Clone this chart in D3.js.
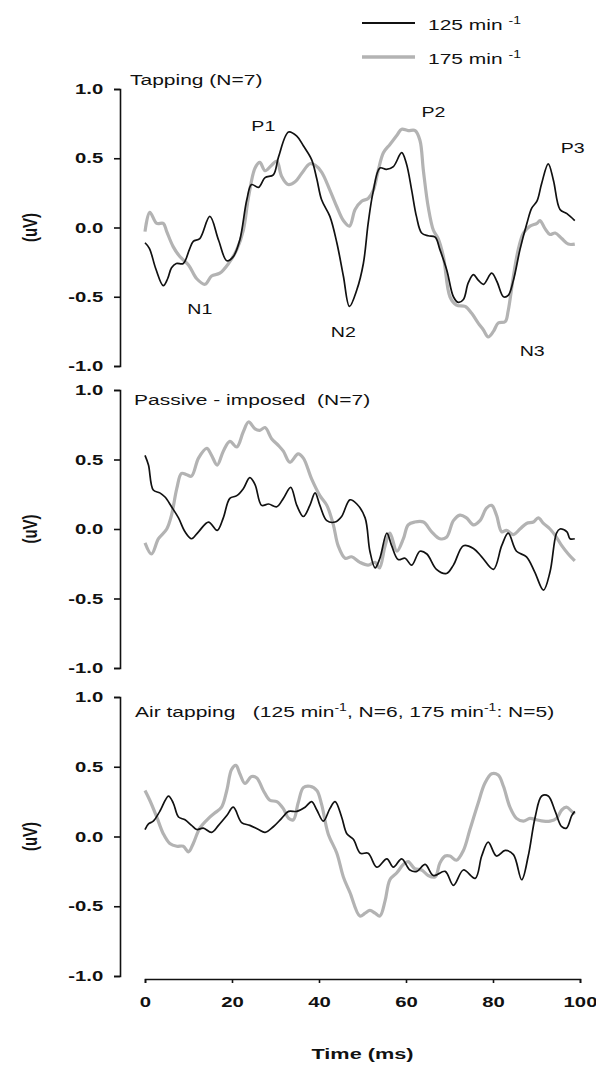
<!DOCTYPE html>
<html>
<head>
<meta charset="utf-8">
<script src="https://cdn.jsdelivr.net/npm/d3@7"></script>
<style>
body { margin: 0; background: #fff; }
svg { display: block; font-family: "Liberation Sans", Arial, sans-serif; }
text { white-space: pre; }
</style>
</head>
<body>
<div id="chart"></div>
<script>
const svgWidth = 596;
const svgHeight = 1067;
const stretch = 1.4; // the source figure is stretched sideways, text included

const timeTicks = [0, 20, 40, 60, 80, 100];
const uvTicks = [-1, -0.5, 0, 0.5, 1];

const seriesNames = ['125 min', '175 min'];

// [time (ms), amplitude (uV)]
const tapping125 = [[0,-0.11],[1,-0.15],[2.5,-0.3],[4.2,-0.42],[5.2,-0.37],[6.1,-0.29],[7.2,-0.26],[8.8,-0.26],[10.2,-0.16],[11.1,-0.1],[12.6,-0.08],[14.9,0.08],[16.9,-0.09],[18.8,-0.24],[20.3,-0.21],[21.8,-0.09],[23.4,0.2],[24.5,0.31],[26.1,0.29],[27.6,0.36],[29.5,0.38],[30.7,0.51],[33,0.69],[34.9,0.66],[36.4,0.59],[38.3,0.49],[39.5,0.35],[40.6,0.2],[42.5,0.08],[44.1,-0.11],[45.6,-0.35],[47,-0.57],[48.7,-0.45],[50.2,-0.26],[51.3,0.03],[52.4,0.25],[54,0.43],[55.5,0.42],[57.1,0.44],[59,0.54],[60.1,0.46],[61.3,0.27],[62.4,0.08],[63.6,-0.04],[65.1,-0.06],[66.7,-0.07],[67.8,-0.16],[69.4,-0.31],[70.9,-0.5],[72,-0.54],[73.2,-0.52],[74.3,-0.4],[75.5,-0.34],[76.6,-0.38],[77.8,-0.41],[79.7,-0.33],[80.9,-0.39],[82.4,-0.5],[83.5,-0.49],[84.7,-0.38],[86.2,-0.16],[87.8,0.03],[88.9,0.14],[90.1,0.19],[91.2,0.32],[92.7,0.46],[93.9,0.34],[95.4,0.13],[97,0.1],[98.8,0.05]];
const tapping175 = [[0,-0.03],[1.1,0.11],[2.7,0.03],[4.2,0.03],[5,-0.03],[6.5,-0.14],[8,-0.21],[10,-0.27],[11.9,-0.37],[13.8,-0.41],[15.3,-0.35],[17.2,-0.33],[19.2,-0.26],[21.1,-0.16],[22.6,-0.02],[23.8,0.22],[25.3,0.43],[26.4,0.47],[27.6,0.41],[29.1,0.45],[30.3,0.48],[31.4,0.37],[32.9,0.31],[34.5,0.33],[36,0.39],[37.9,0.46],[39.1,0.45],[40.6,0.4],[42.5,0.27],[44.1,0.15],[45.6,0.05],[47,0.01],[48.3,0.13],[49.8,0.19],[51.3,0.21],[52.5,0.27],[53.6,0.41],[54.8,0.54],[56.3,0.6],[58,0.67],[59,0.71],[60.5,0.7],[62.1,0.7],[63.2,0.63],[64,0.41],[65.1,0.15],[66.3,-0.02],[67.4,-0.08],[68.6,-0.21],[70.1,-0.5],[71.6,-0.56],[73.6,-0.57],[75.1,-0.62],[76.6,-0.69],[77.8,-0.74],[78.9,-0.79],[80.1,-0.75],[81.2,-0.69],[82.8,-0.68],[83.5,-0.6],[84.7,-0.35],[85.8,-0.16],[87,-0.04],[88.5,0.01],[90.1,0.03],[90.8,0.05],[92,-0.01],[93.1,-0.05],[94.3,-0.04],[95.8,-0.08],[97.3,-0.12],[98.8,-0.12]];
const passive125 = [[0,0.53],[0.8,0.46],[1.9,0.28],[3.4,0.26],[4.6,0.23],[6.1,0.16],[7.7,0.08],[9.2,-0.02],[10.7,-0.07],[12.3,-0.02],[14.6,0.05],[16.6,-0.01],[18,0.08],[19.5,0.22],[21.1,0.24],[22.6,0.29],[24.1,0.37],[25.3,0.32],[26.8,0.17],[28.4,0.18],[30.3,0.16],[31.8,0.22],[33.5,0.3],[34.9,0.17],[36.4,0.09],[37.9,0.17],[39.1,0.26],[40.2,0.17],[41.8,0.06],[43.7,0.05],[45.2,0.09],[47.1,0.21],[48.7,0.18],[50.6,0.08],[51.7,-0.16],[52.9,-0.28],[54,-0.21],[55.6,-0.03],[56.7,-0.12],[58.2,-0.22],[59.8,-0.21],[61.3,-0.26],[63.2,-0.16],[64.8,-0.18],[67,-0.29],[69.3,-0.32],[70.9,-0.26],[73.2,-0.12],[75.5,-0.14],[77.4,-0.2],[80.1,-0.29],[82,-0.12],[83.5,-0.03],[85.4,-0.16],[87.7,-0.2],[89.6,-0.31],[91.6,-0.44],[93.1,-0.31],[94.6,-0.03],[95.4,0],[97,-0.02],[97.7,-0.07],[98.8,-0.07]];
const passive175 = [[0,-0.1],[1.5,-0.18],[3.1,-0.07],[5,0],[6.1,0.1],[7.3,0.29],[8.4,0.4],[9.6,0.39],[10.7,0.38],[12.3,0.51],[14.2,0.58],[15.3,0.53],[16.6,0.46],[18,0.56],[19.5,0.63],[21.1,0.59],[22.6,0.7],[23.8,0.77],[25.3,0.72],[26.4,0.71],[27.6,0.73],[29.1,0.65],[30.7,0.6],[31.8,0.56],[33.3,0.48],[35.2,0.54],[36.4,0.51],[38.3,0.36],[40.2,0.24],[41.8,0.17],[43.3,0.03],[44.4,-0.12],[46,-0.21],[47.5,-0.2],[49.4,-0.24],[51.3,-0.26],[52.9,-0.24],[53.9,-0.28],[55.2,-0.12],[56.3,-0.03],[57.9,-0.16],[59.4,-0.07],[60.5,0.03],[62,0.05],[64,0.05],[65.9,-0.02],[67.8,-0.07],[69.3,-0.06],[70.9,0.06],[72.4,0.1],[73.9,0.08],[75.5,0.03],[77,0.06],[78.5,0.15],[79.7,0.17],[80.8,0.1],[82,-0.02],[83.1,-0.01],[84.7,-0.04],[86.2,0],[87.7,0.04],[89.3,0.05],[90.4,0.08],[91.6,0.04],[93.1,0],[94.6,-0.06],[95.8,-0.12],[97.3,-0.18],[98.8,-0.23]];
const air125 = [[0,0.05],[0.8,0.09],[1.9,0.11],[3.4,0.18],[5.4,0.29],[6.5,0.24],[7.7,0.14],[9.2,0.12],[10.7,0.08],[11.9,0.05],[13.4,0.06],[15.3,0.03],[16.9,0.08],[18.8,0.15],[20.3,0.21],[22.2,0.1],[24.1,0.08],[26.1,0.05],[27.6,0.03],[29.5,0.07],[31.4,0.13],[33,0.18],[34.9,0.18],[36.8,0.21],[38.3,0.25],[39.5,0.19],[41,0.11],[42.5,0.2],[43.7,0.25],[45.2,0.14],[46.4,0.02],[47.9,-0.02],[49.5,-0.12],[51.3,-0.12],[53.3,-0.22],[55.6,-0.16],[57.1,-0.22],[59,-0.16],[60.9,-0.24],[62.5,-0.25],[64.4,-0.2],[66.3,-0.28],[69,-0.25],[70.9,-0.35],[73.2,-0.24],[75.9,-0.3],[77.4,-0.14],[78.9,-0.04],[80.8,-0.14],[82.8,-0.1],[84.7,-0.13],[86.6,-0.31],[88.1,-0.14],[89.7,0.14],[91.2,0.29],[92.7,0.29],[94.3,0.18],[95.8,0.07],[96.9,0.06],[98.1,0.15],[98.8,0.18]];
const air175 = [[0,0.33],[1.1,0.26],[2.7,0.14],[4.2,0.02],[5.7,-0.05],[7.3,-0.07],[8.8,-0.07],[10,-0.11],[11.1,-0.05],[12.6,0.06],[14.6,0.13],[16.1,0.17],[17.6,0.21],[18.8,0.33],[19.9,0.48],[20.9,0.51],[21.8,0.45],[23,0.38],[24.5,0.43],[25.7,0.42],[27.2,0.33],[28.7,0.26],[30.3,0.25],[31.8,0.2],[33,0.13],[34.1,0.12],[35.2,0.24],[36.4,0.35],[37.9,0.36],[39.5,0.33],[40.6,0.23],[42.1,0.02],[44.1,-0.12],[45.6,-0.29],[47.1,-0.4],[49.4,-0.57],[50.6,-0.55],[51.7,-0.53],[52.9,-0.55],[54,-0.57],[55.2,-0.46],[56.3,-0.31],[57.9,-0.26],[59.4,-0.2],[60.5,-0.18],[62,-0.23],[63.6,-0.24],[65.1,-0.28],[66.7,-0.29],[67.8,-0.19],[69,-0.14],[70.1,-0.14],[71.6,-0.17],[73.2,-0.1],[74.7,0.05],[76.6,0.24],[78.1,0.38],[79.7,0.45],[81.2,0.44],[82.4,0.36],[83.9,0.21],[85.4,0.13],[87,0.11],[88.5,0.13],[90,0.12],[91.6,0.11],[93.1,0.11],[94.6,0.13],[95.8,0.19],[96.9,0.21],[98.1,0.18],[98.8,0.16]];

// Title pieces: [text, isSuperscript]
const tappingTitle = [['Tapping (N=7)', false]];
const passiveTitle = [['Passive - imposed  (N=7)', false]];
const airTitle = [['Air tapping   (125 min', false], ['-1', true], [', N=6, 175 min', false], ['-1', true], [': N=5)', false]];

// Component labels in the tapping panel
const peakNames = ['N1', 'P1', 'N2', 'P2', 'N3', 'P3'];
const peakTimes = [12.6, 27.2, 45.6, 66.3, 89, 98.3];
const peakUv = [-0.625, 0.7, -0.79, 0.8, -0.93, 0.54];

const axisX = 120;
const colors = {short: '#111', long: '#b3b3b3'};

const panels = [
    {series: [tapping125, tapping175], title: tappingTitle, top: 89, bottom: 366, titleX: 130, titleY: 85},
    {series: [passive125, passive175], title: passiveTitle, top: 390, bottom: 668, titleX: 134, titleY: 405},
    {series: [air125, air175], title: airTitle, top: 697, bottom: 976, titleX: 135, titleY: 717}
];

const x = d3.scaleLinear().domain([0, 100]).range([145, 580]);

const svg = d3.select('#chart').append('svg')
    .attr('width', svgWidth)
    .attr('height', svgHeight);

// Place a sideways-stretched text at (px, py)
const placeText = (sel, px, py) => sel.attr('transform', 'translate(' + px + ',' + py + ') scale(' + stretch + ',1)');

// Write text pieces with superscripts
const writePieces = (textSel, pieces, size) => {
    pieces.forEach(([str, sup], i) => {
        const prevSup = i > 0 && pieces[i - 1][1];
        textSel.append('tspan')
            .attr('font-size', sup ? Math.round(size * 0.68) : size)
            .attr('dy', sup ? -6 : (prevSup ? 6 : 0))
            .text(str);
    });
};

const line = y => d3.line()
    .x(d => x(d[0]))
    .y(d => y(d[1]))
    .curve(d3.curveCatmullRom.alpha(0.5));

panels.forEach((p, idx) => {
    const y = d3.scaleLinear().domain([-1, 1]).range([p.bottom, p.top]);

    // y axis
    const yAxis = svg.append('g')
        .attr('transform', 'translate(' + axisX + ',0)')
        .call(d3.axisLeft(y).tickValues(uvTicks).tickFormat(d => d.toFixed(1)).tickSize(6).tickPadding(6))
        .attr('font-size', null).attr('font-family', null);
    yAxis.selectAll('path, line').attr('stroke', '#111').attr('stroke-width', 1.6);
    yAxis.selectAll('text')
        .attr('fill', '#111')
        .attr('font-size', 14.5)
        .attr('font-weight', 'bold')
        .attr('transform', 'scale(' + stretch + ',1)');

    // y axis title
    svg.append('text')
        .attr('transform', 'translate(37,' + y(0) + ') scale(' + stretch + ',1) rotate(-90)')
        .attr('text-anchor', 'middle')
        .attr('font-size', 15)
        .attr('font-weight', 'bold')
        .attr('fill', '#111')
        .text('(uV)');

    // panel title
    const title = svg.append('text').attr('fill', '#111');
    placeText(title, p.titleX, p.titleY);
    writePieces(title, p.title, 15);

    // traces: 175 (grey, thick) under 125 (black, thin)
    svg.append('path')
        .datum(p.series[1])
        .attr('fill', 'none')
        .attr('stroke', colors.long)
        .attr('stroke-width', 3.2)
        .attr('stroke-linejoin', 'round')
        .attr('d', line(y));
    svg.append('path')
        .datum(p.series[0])
        .attr('fill', 'none')
        .attr('stroke', colors.short)
        .attr('stroke-width', 1.7)
        .attr('stroke-linejoin', 'round')
        .attr('d', line(y));

    if (idx === 0) {
        peakNames.forEach((name, i) => {
            const t = svg.append('text')
                .attr('text-anchor', 'middle')
                .attr('font-size', 14)
                .attr('fill', '#111')
                .text(name);
            placeText(t, x(peakTimes[i]), y(peakUv[i]));
        });
    }
});

// x axis
const xAxisY = 979;
const xAxis = svg.append('g')
    .attr('transform', 'translate(0,' + xAxisY + ')')
    .call(d3.axisBottom(x).tickValues(timeTicks).tickSize(4).tickPadding(14))
    .attr('font-size', null).attr('font-family', null);
xAxis.selectAll('path, line').attr('stroke', '#111').attr('stroke-width', 1.6);
xAxis.selectAll('text')
    .attr('fill', '#111')
    .attr('font-size', 14.5)
    .attr('font-weight', 'bold')
    .attr('transform', 'scale(' + stretch + ',1)');

const xTitle = svg.append('text')
    .attr('text-anchor', 'middle')
    .attr('font-size', 15.5)
    .attr('font-weight', 'bold')
    .attr('fill', '#111')
    .text('Time (ms)');
placeText(xTitle, (x(0) + x(100)) / 2, 1059);

// legend
const legendY = [23, 57];
seriesNames.forEach((name, i) => {
    svg.append('line')
        .attr('x1', 362).attr('x2', 415)
        .attr('y1', legendY[i]).attr('y2', legendY[i])
        .attr('stroke', i === 0 ? colors.short : colors.long)
        .attr('stroke-width', i === 0 ? 1.8 : 3.5);
    const t = svg.append('text').attr('fill', '#111');
    placeText(t, 428, legendY[i] + 6.5);
    writePieces(t, [[name + ' ', false], ['-1', true]], 15);
});
</script>
</body>
</html>
